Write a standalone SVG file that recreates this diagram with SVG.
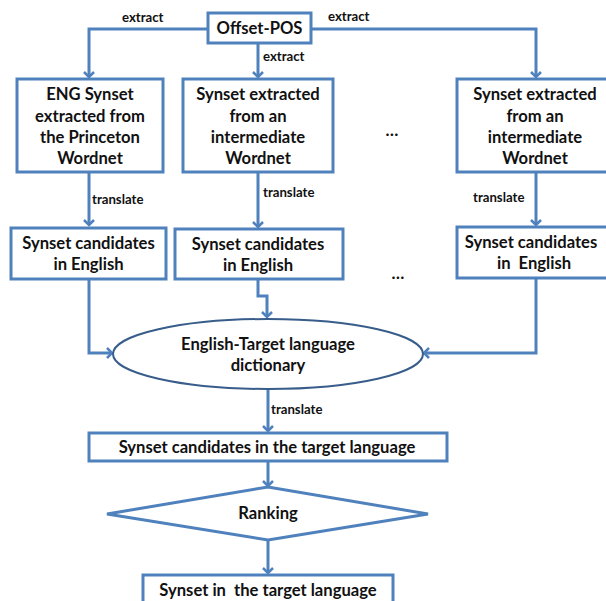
<svg xmlns="http://www.w3.org/2000/svg" width="606" height="601" viewBox="0 0 606 601">
<defs>
<marker id="arr" markerWidth="12" markerHeight="12" refX="6" refY="6" orient="auto" markerUnits="userSpaceOnUse">
<path d="M1,1 L6,6 L1,11" fill="none" stroke="#4f81bd" stroke-width="2.5"/>
</marker>
<style>
.box{fill:#fff;stroke:#4f81bd;stroke-width:3}
.ell{fill:#fff;stroke:#385d8a;stroke-width:2}
.c{fill:none;stroke:#4f81bd;stroke-width:3;marker-end:url(#arr)}
.t{font-family:Lato,"Liberation Sans",sans-serif;font-weight:bold;font-size:16.6px;fill:#111;text-anchor:middle}
.s{font-family:Lato,"Liberation Sans",sans-serif;font-weight:bold;font-size:13.2px;fill:#111}
</style>
</defs>
<rect width="606" height="601" fill="#fff"/>
<g id="connectors">
<path class="c" d="M208,29 H89 V77"/>
<path class="c" d="M311,29 H536 V77"/>
<path class="c" d="M258,43 V77"/>
<path class="c" d="M89,172 V225"/>
<path class="c" d="M258,172 V227"/>
<path class="c" d="M536,172 V225"/>
<path class="c" d="M89,279 V353 H112"/>
<path class="c" d="M258,279 V296 H267 V317"/>
<path class="c" d="M536,278 V353 H424"/>
<path class="c" d="M268,390 V431"/>
<path class="c" d="M268,461 V486"/>
<path class="c" d="M268,540 V573"/>
<text class="s" x="122" y="22">extract</text>
<text class="s" x="328" y="21">extract</text>
<text class="s" x="263" y="61">extract</text>
<text class="s" x="92" y="204">translate</text>
<text class="s" x="263" y="197">translate</text>
<text class="s" x="473" y="202">translate</text>
<text class="s" x="271" y="414">translate</text>
</g>
<g id="offset-pos">
<rect class="box" x="208" y="13" width="103" height="30"/>
<text class="t" x="259.5" y="34">Offset-POS</text>
</g>
<g id="eng-synset">
<rect class="box" x="17" y="79" width="146" height="93"/>
<text class="t" x="90" y="100">ENG Synset</text>
<text class="t" x="90" y="122">extracted from</text>
<text class="t" x="90" y="143">the Princeton</text>
<text class="t" x="90" y="164">Wordnet</text>
</g>
<g id="synset-intermediate-1">
<rect class="box" x="183" y="79" width="150" height="93"/>
<text class="t" x="258" y="100">Synset extracted</text>
<text class="t" x="258" y="122">from an</text>
<text class="t" x="258" y="143">intermediate</text>
<text class="t" x="258" y="164">Wordnet</text>
</g>
<g id="dots-1">
<text class="t" x="392" y="136">…</text>
</g>
<g id="synset-intermediate-2">
<rect class="box" x="457" y="79" width="155" height="93"/>
<text class="t" x="535" y="100">Synset extracted</text>
<text class="t" x="535" y="122">from an</text>
<text class="t" x="535" y="143">intermediate</text>
<text class="t" x="535" y="164">Wordnet</text>
</g>
<g id="candidates-1">
<rect class="box" x="11" y="228" width="155" height="51"/>
<text class="t" x="88.5" y="249">Synset candidates</text>
<text class="t" x="88.5" y="270">in English</text>
</g>
<g id="candidates-2">
<rect class="box" x="175" y="229" width="168" height="50"/>
<text class="t" x="258" y="250">Synset candidates</text>
<text class="t" x="258" y="271">in English</text>
</g>
<g id="dots-2">
<text class="t" x="398" y="279">…</text>
</g>
<g id="candidates-3">
<rect class="box" x="457" y="227" width="155" height="51"/>
<text class="t" x="531" y="248">Synset candidates</text>
<text class="t" x="534" y="269" xml:space="preserve">in  English</text>
</g>
<g id="dictionary">
<ellipse class="ell" cx="268" cy="354" rx="155" ry="35"/>
<text class="t" x="268" y="350">English-Target language</text>
<text class="t" x="268" y="371">dictionary</text>
</g>
<g id="candidates-target">
<rect class="box" x="89" y="433" width="358" height="28"/>
<text class="t" x="267" y="453">Synset candidates in the target language</text>
</g>
<g id="ranking">
<polygon class="box" points="107,514 268,487 428,514 268,540"/>
<text class="t" x="268" y="519">Ranking</text>
</g>
<g id="synset-target">
<rect class="box" x="143" y="575" width="250" height="40"/>
<text class="t" x="268" y="596" xml:space="preserve">Synset in  the target language</text>
</g>
</svg>
